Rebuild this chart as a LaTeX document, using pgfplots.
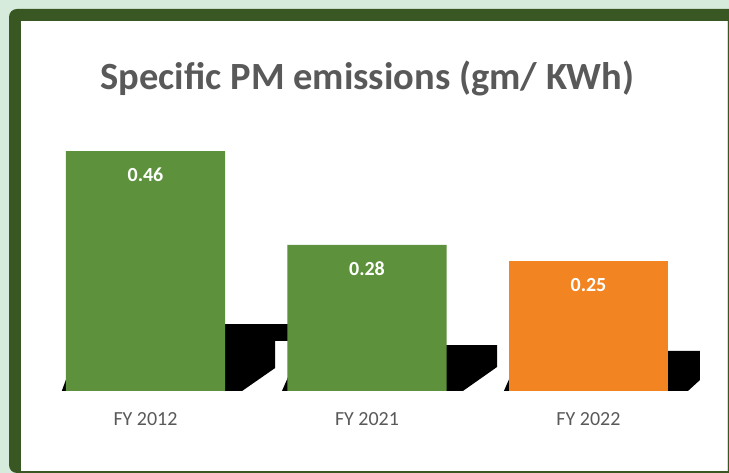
\documentclass[border=0pt]{standalone}
\usepackage{pgfplots}
\pgfplotsset{compat=1.18}
\usepackage{fontspec}
\setmainfont{Carlito}
\definecolor{bggreen}{RGB}{214,235,220}
\definecolor{framegreen}{RGB}{56,87,35}
\definecolor{bargreen}{RGB}{93,145,59}
\definecolor{barorange}{RGB}{242,132,34}
\definecolor{txtgray}{RGB}{89,89,89}
\begin{document}
\begin{tikzpicture}[x=1pt,y=1pt]
\useasboundingbox (0,0) rectangle (729,473);
\clip (0,0) rectangle (729,473);
% background and frame
\fill[bggreen] (0,0) rectangle (729,473);
\fill[framegreen,rounded corners=8pt] (9,0) rectangle (760,464);
\fill[white] (21,2) rectangle (727,452);
\draw[black!15,line width=1pt] (727.5,2) -- (727.5,452);
\begin{axis}[
  at={(21pt,82pt)}, anchor=south west,
  scale only axis, width=706pt, height=370pt,
  xmin=-0.5621, xmax=2.6253, ymin=0, ymax=0.7092,
  clip=false,
  axis line style={draw=none},
  major tick length=0pt,
  ytick=\empty,
  xtick={0,1,2},
  xticklabels={FY 2012, FY 2021, FY 2022},
  xticklabel style={font=\fontsize{20}{24}\selectfont, text=txtgray, yshift=-18pt},
]
% shadows
\addplot[fill=black, draw=none] coordinates {
 (-0.378,0) (-0.352,0.030) (-0.30,0.040) (-0.30,0.128) (0.643,0.128) (0.643,0.096)
 (0.585,0.096) (0.585,0.044) (0.436,0)} -- cycle;
\addplot[fill=black, draw=none] coordinates {
 (0.616,0) (0.645,0.028) (0.70,0.035) (0.70,0.088) (1.587,0.088) (1.587,0.046) (1.433,0)} -- cycle;
\addplot[fill=black, draw=none] coordinates {
 (1.618,0) (1.647,0.028) (1.70,0.035) (1.70,0.077) (2.503,0.077) (2.503,0.021) (2.449,0)} -- cycle;
% bars
\addplot[ybar, bar width=0.718, bar shift=0pt, fill=bargreen, draw=none,
  nodes near coords, point meta=y,
  nodes near coords style={anchor=center, yshift=-24pt, text=white,
    font=\fontsize{20}{24}\selectfont\bfseries,
    /pgf/number format/fixed, /pgf/number format/precision=2,
    /pgf/number format/fixed zerofill, /pgf/number format/assume math mode=true}]
  coordinates {(0,0.46) (1,0.28)};
\addplot[ybar, bar width=0.718, bar shift=0pt, fill=barorange, draw=none,
  nodes near coords, point meta=y,
  nodes near coords style={anchor=center, yshift=-24pt, text=white,
    font=\fontsize{20}{24}\selectfont\bfseries,
    /pgf/number format/fixed, /pgf/number format/precision=2,
    /pgf/number format/fixed zerofill, /pgf/number format/assume math mode=true}]
  coordinates {(2,0.25)};
\end{axis}
\node[anchor=base, text=txtgray, font=\fontsize{38.5}{46}\selectfont\bfseries, inner sep=0pt] at (367.5,383) {Specific PM emissions (gm/ KWh)};
\end{tikzpicture}
\end{document}
